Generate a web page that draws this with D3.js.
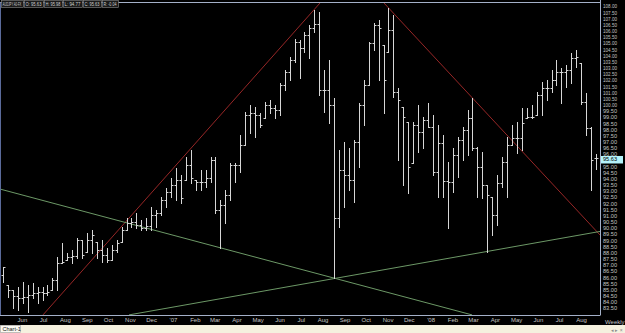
<!DOCTYPE html>
<html>
<head>
<meta charset="utf-8">
<script src="https://cdnjs.cloudflare.com/ajax/libs/d3/7.8.5/d3.min.js"></script>
<style>
  html, body { margin: 0; padding: 0; background: #000; overflow: hidden; }
  svg { display: block; font-family: "Liberation Sans", Arial, sans-serif; }
</style>
</head>
<body>
<svg id="chart" width="625" height="333"></svg>
<script>
// weekly AUDJPY bars, one per Monday from firstWeek
const symbol = "AUDJPY A0-FX";
const quote = ["O: 95.63", "H: 95.98", "L: 94.77", "C: 95.63", "R: -0.04"];
const lastPrice = 95.63;
const firstWeek = "2006-05-01";
const lastWeek = "2008-08-18";

const opens = [86.18, 85.37, 84.97, 84.48, 84.32, 84.40, 84.56, 84.72, 84.80, 84.72,
  84.97, 85.78, 87.16, 87.40, 87.64, 87.72, 89.02, 88.05, 89.02, 88.86,
  88.21, 87.81, 87.40, 88.21, 88.86, 89.83, 90.40, 90.48, 90.24, 90.00,
  90.16, 91.05, 91.21, 92.27, 92.91, 93.48, 93.89, 93.89, 95.10, 93.89,
  93.73, 93.73, 94.05, 95.51, 91.45, 91.86, 92.67, 95.10, 95.10, 96.73,
  99.16, 99.32, 99.16, 98.92, 99.97, 99.73, 99.57, 101.59, 102.65, 103.62,
  105.08, 104.59, 105.65, 106.22, 106.54, 101.19, 101.19, 99.97, 90.81, 94.70,
  94.29, 93.89, 96.97, 99.97, 101.59, 105.00, 106.46, 104.84, 104.27, 106.05,
  101.03, 99.81, 98.59, 95.27, 98.35, 97.78, 98.75, 98.19, 94.54, 96.89,
  93.81, 93.73, 95.92, 97.13, 97.94, 98.92, 96.48, 94.94, 93.48, 92.51,
  91.05, 93.64, 95.35, 96.73, 97.29, 97.29, 98.92, 99.00, 99.16, 100.78,
  101.35, 101.35, 102.00, 102.65, 102.65, 102.81, 103.78, 103.38, 100.21, 98.10,
  95.67];
const highs = [86.83, 85.37, 84.97, 85.21, 85.62, 85.37, 85.53, 85.21, 85.21, 85.37,
  85.94, 87.64, 88.78, 87.97, 88.21, 89.18, 89.02, 89.59, 89.83, 88.86,
  89.02, 88.37, 88.62, 89.02, 90.08, 90.81, 90.81, 91.21, 90.64, 90.81,
  91.70, 91.45, 92.51, 93.24, 94.05, 94.86, 94.29, 95.75, 96.32, 93.89,
  94.70, 94.70, 95.75, 95.75, 92.27, 93.08, 95.27, 95.27, 97.54, 99.40,
  99.97, 99.81, 99.32, 100.21, 100.38, 99.97, 101.76, 102.81, 103.86, 105.32,
  105.24, 105.89, 106.46, 107.68, 107.51, 102.81, 103.62, 100.54, 96.32, 96.97,
  96.48, 97.13, 100.13, 102.00, 105.08, 106.62, 106.86, 104.84, 107.84, 107.27,
  101.35, 99.81, 98.59, 98.59, 99.97, 99.00, 100.13, 99.16, 98.35, 97.54,
  95.35, 96.48, 97.38, 98.19, 99.57, 100.54, 96.56, 96.16, 93.48, 92.51,
  94.29, 95.75, 97.38, 98.35, 98.59, 99.73, 99.73, 99.97, 101.03, 101.84,
  102.00, 102.81, 103.62, 102.97, 103.21, 104.19, 104.43, 103.38, 100.94, 98.19,
  95.98];
const lows = [85.62, 84.40, 83.51, 83.34, 83.91, 83.18, 84.32, 83.91, 84.16, 84.56,
  84.97, 84.97, 87.16, 87.40, 87.16, 87.56, 87.56, 88.05, 87.97, 87.56,
  87.24, 87.24, 87.40, 88.05, 88.86, 89.83, 90.08, 90.00, 89.83, 89.83,
  89.83, 90.08, 91.05, 91.70, 92.51, 92.27, 92.02, 93.89, 93.64, 93.08,
  93.08, 93.32, 93.73, 91.21, 88.37, 90.40, 92.27, 93.73, 94.54, 96.73,
  97.70, 97.38, 98.19, 98.92, 99.32, 98.92, 99.16, 101.19, 102.00, 103.46,
  102.16, 104.27, 103.78, 105.89, 100.78, 99.40, 98.51, 85.94, 90.08, 91.70,
  93.08, 92.10, 94.94, 98.35, 101.59, 104.43, 102.00, 99.32, 104.27, 100.62,
  95.51, 93.48, 92.83, 95.27, 96.16, 96.48, 98.19, 94.29, 92.51, 92.51,
  90.00, 92.91, 94.13, 95.51, 95.92, 96.32, 92.51, 92.43, 88.05, 89.43,
  90.24, 93.32, 92.51, 96.73, 96.08, 96.32, 98.92, 98.92, 99.16, 99.16,
  100.38, 101.03, 101.59, 100.13, 101.43, 101.76, 103.05, 100.05, 97.54, 93.08,
  94.77];
const closes = [86.83, 84.97, 84.48, 84.32, 84.40, 84.56, 84.72, 84.80, 84.72, 84.80,
  85.78, 87.16, 87.24, 87.64, 87.72, 89.02, 87.81, 89.02, 89.43, 88.21,
  87.81, 87.40, 88.21, 88.78, 89.83, 90.40, 90.48, 90.24, 90.00, 90.16,
  91.05, 91.21, 92.27, 92.91, 93.48, 93.89, 92.43, 95.10, 94.05, 93.73,
  93.73, 94.05, 95.51, 91.45, 91.86, 92.67, 95.10, 95.10, 96.73, 99.16,
  99.32, 99.16, 98.35, 99.97, 99.73, 99.57, 101.59, 102.65, 103.62, 105.08,
  104.59, 105.65, 106.22, 106.54, 101.19, 101.19, 99.97, 90.81, 94.70, 94.29,
  93.89, 96.97, 99.97, 101.59, 105.00, 106.46, 106.22, 102.00, 106.05, 101.03,
  100.38, 99.00, 94.94, 98.35, 97.78, 98.75, 98.19, 94.54, 96.89, 93.81,
  93.73, 95.92, 97.13, 97.94, 98.92, 96.48, 94.94, 93.48, 92.67, 91.05,
  93.64, 95.35, 96.73, 97.29, 97.29, 98.51, 99.00, 99.00, 100.78, 101.35,
  101.35, 102.00, 102.65, 102.65, 102.81, 103.78, 103.86, 100.21, 98.10, 95.51,
  95.63];

// trend lines: [start, end] as [date, price]
const redLines = [
  [["2006-06-26T16:00", 82.94], ["2007-07-24T00:00", 108.24]],
  [["2007-10-22T17:00", 108.24], ["2008-08-23T17:00", 89.42]]
];
const greenLines = [
  [["2006-04-26T18:00", 93.15], ["2008-02-24T10:00", 82.94]],
  [["2006-10-26T12:00", 82.94], ["2008-08-23T17:00", 89.71]]
];
const priceTicks = d3.range(83.5, 108.01, 0.5);

const W = 625, H = 333;
const plotRight = 600, plotTop = 3, plotBottom = 315;

const parse = d3.utcParse("%Y-%m-%d");
const parseT = d3.utcParse("%Y-%m-%dT%H:%M");
const weeks = d3.utcMonday.range(parse(firstWeek), d3.utcDay.offset(parse(lastWeek), 1));
const bars = weeks.map(function (d, i) {
  return { date: d, o: opens[i], h: highs[i], l: lows[i], c: closes[i] };
});

const x = d3.scaleUtc().domain([parse(firstWeek), parse(lastWeek)]).range([3, 596]);
const y = d3.scaleLinear().domain([83.5, 108]).range([308, 6]);

const svg = d3.select("#chart");

svg.append("rect").attr("width", W).attr("height", H).attr("fill", "#000");

svg.append("defs").append("clipPath").attr("id", "plotClip")
  .append("rect").attr("x", 0).attr("y", plotTop).attr("width", plotRight).attr("height", plotBottom - plotTop);

// trend lines
const plot = svg.append("g").attr("clip-path", "url(#plotClip)");
function drawLines(lines, color) {
  plot.selectAll(null).data(lines).enter().append("line")
    .attr("x1", function (d) { return x(parseT(d[0][0])); })
    .attr("y1", function (d) { return y(d[0][1]); })
    .attr("x2", function (d) { return x(parseT(d[1][0])); })
    .attr("y2", function (d) { return y(d[1][1]); })
    .attr("stroke", color)
    .attr("stroke-width", 1);
}
drawLines(redLines, "#962626");
drawLines(greenLines, "#6c9866");

// OHLC bars
const px = function (d) { return Math.round(x(d.date)) + 0.5; };
const py = function (v) { return Math.round(y(v)) + 0.5; };
const g = plot.selectAll("g.bar").data(bars).enter().append("g").attr("class", "bar")
  .attr("stroke", "#d6d6d6").attr("stroke-width", 1);
g.append("line")
  .attr("x1", px).attr("x2", px)
  .attr("y1", function (d) { return py(d.h) - 0.5; })
  .attr("y2", function (d) { return py(d.l) + 0.5; });
g.append("line")
  .attr("x1", function (d) { return px(d) - 2; }).attr("x2", px)
  .attr("y1", function (d) { return py(d.o); }).attr("y2", function (d) { return py(d.o); });
g.append("line")
  .attr("x1", px).attr("x2", function (d) { return px(d) + 2; })
  .attr("y1", function (d) { return py(d.c); }).attr("y2", function (d) { return py(d.c); });

// frame
const frame = "#a4b0c8";
svg.append("line").attr("x1", 0).attr("x2", plotRight).attr("y1", 2.5).attr("y2", 2.5).attr("stroke", frame);
svg.append("line").attr("x1", 0.5).attr("x2", 0.5).attr("y1", 2.5).attr("y2", plotBottom + 0.5).attr("stroke", "#5a6a9a");
svg.append("line").attr("x1", 0).attr("x2", plotRight).attr("y1", plotBottom + 0.5).attr("y2", plotBottom + 0.5).attr("stroke", frame);
svg.append("line").attr("x1", plotRight + 0.5).attr("x2", plotRight + 0.5).attr("y1", 0).attr("y2", plotBottom + 0.5).attr("stroke", frame);

// right price axis (the label under the last-price marker is hidden, as in the terminal)
const yAxis = d3.axisRight(y)
  .tickValues(priceTicks.filter(function (v) { return Math.abs(y(v) - y(lastPrice)) > 4; }))
  .tickFormat(d3.format(".2f")).tickSize(0).tickPadding(0);
const ya = svg.append("g").attr("transform", "translate(" + (plotRight + 3) + ",0)").call(yAxis);
ya.select(".domain").remove();
ya.selectAll("text")
  .attr("fill", "#c4c4c4")
  .attr("font-size", "6px")
  .attr("font-family", "Liberation Sans, Arial, sans-serif")
  .attr("textLength", 14)
  .attr("lengthAdjust", "spacingAndGlyphs");

// last price marker
svg.append("rect").attr("x", plotRight + 1).attr("y", y(lastPrice) - 2.5).attr("width", 22).attr("height", 7.5)
  .attr("fill", "#b4f2fa");
svg.append("text").attr("x", plotRight + 3).attr("y", y(lastPrice) + 2.6)
  .attr("font-size", "5.5px").attr("fill", "#000").attr("textLength", 14).attr("lengthAdjust", "spacingAndGlyphs")
  .text(d3.format(".2f")(lastPrice));

// bottom month axis
const monthTicks = d3.utcMonth.range(parse("2006-06-01"), parse("2008-09-01"));
const fmtMonth = function (d) {
  return d.getUTCMonth() === 0 ? "'" + d3.utcFormat("%y")(d) : d3.utcFormat("%b")(d);
};
const xAxis = d3.axisBottom(x).tickValues(monthTicks).tickFormat(fmtMonth).tickSize(0).tickPadding(0);
const xa = svg.append("g").attr("transform", "translate(-3," + (plotBottom + 2.5) + ")").call(xAxis);
xa.select(".domain").remove();
xa.selectAll("text")
  .attr("fill", "#c4c4c4")
  .attr("font-size", "6px")
  .attr("font-family", "Liberation Sans, Arial, sans-serif")
  .attr("dy", "0.75em");
svg.append("text").attr("x", 605).attr("y", plotBottom + 8.5).attr("font-size", "6px").attr("fill", "#c4c4c4").text("Weekly");

// quote boxes top-left, text squeezed to the box width
const boxes = [symbol].concat(quote);
const boxW = [22, 19, 18, 19, 18, 16];
let bx = 1;
boxes.forEach(function (t, i) {
  svg.append("rect").attr("x", bx + 0.5).attr("y", 0.5).attr("width", boxW[i]).attr("height", 7)
    .attr("fill", "#1a1a1a").attr("stroke", "#8a8a8a").attr("stroke-width", 0.6);
  const tx = svg.append("text").attr("x", 0).attr("y", 0).attr("font-size", "4.5px").attr("fill", "#d0d0d0").text(t);
  const s = Math.min(1, (boxW[i] - 3) / tx.node().getComputedTextLength());
  tx.attr("transform", "translate(" + (bx + 1.5) + ",5.8) scale(" + s + ",1)");
  bx += boxW[i] + 1;
});

// bottom strip with tab
svg.append("rect").attr("x", 0).attr("y", 325).attr("width", W).attr("height", 8).attr("fill", "#f5f1df");
svg.append("rect").attr("x", 0.5).attr("y", 325.5).attr("width", 20).attr("height", 7)
  .attr("fill", "#fbfaf3").attr("stroke", "#9a9a9a").attr("stroke-width", 0.6);
svg.append("text").attr("x", 2.5).attr("y", 331).attr("font-size", "5.5px").attr("fill", "#202020").text("Chart-1");
svg.append("text").attr("x", 611).attr("y", 331.5).attr("font-size", "5px").attr("fill", "#8a8a8a").text("◂ ▸ ×");
</script>
</body>
</html>
